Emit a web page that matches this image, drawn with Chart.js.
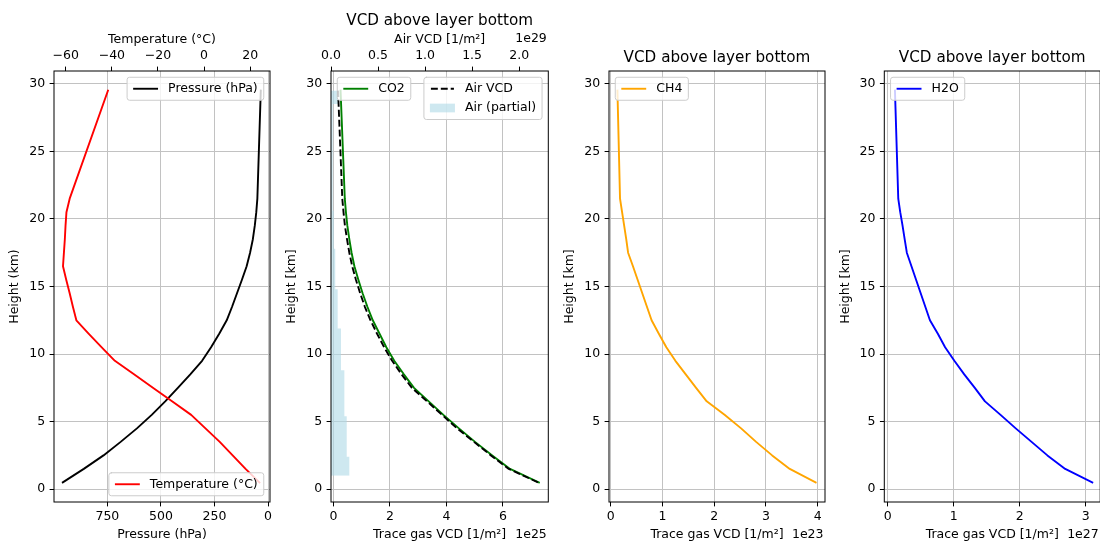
<!DOCTYPE html>
<html><head><meta charset="utf-8">
<script src="https://cdn.jsdelivr.net/npm/chart.js@4.4.0/dist/chart.umd.min.js"></script>
<style>
html,body{margin:0;padding:0;background:#fff;overflow:hidden;width:1100px;height:542px;}
.wrap{position:absolute;left:0;top:0;width:1120px;height:560px;}
canvas{position:absolute;left:0;top:0;}
</style></head><body>
<div class="wrap">
<canvas id="c1" width="1120" height="560"></canvas>
<canvas id="c2" width="1120" height="560"></canvas>
<canvas id="c3" width="1120" height="560"></canvas>
<canvas id="c4" width="1120" height="560"></canvas>
</div>
<script>
// ---------------- data ----------------
const heights = [0.5, 1.5, 2.5, 3.5, 4.5, 5.5, 6.5, 7.5, 8.5, 9.5, 10.5, 11.5, 12.5, 13.5, 14.5, 15.5, 16.5, 17.5, 18.5, 19.5, 20.5, 21.5, 29.5];
const pressureHpa = [958, 860, 768, 688, 612, 543, 480, 421, 363, 308, 266, 228, 193, 168, 145, 122, 100, 84, 71, 62, 55, 50, 34];
const temperatureC = [24.0, 18.0, 12.4, 6.8, 0.6, -5.6, -13.9, -22.2, -30.4, -38.7, -44.4, -50.0, -55.4, -56.9, -58.3, -59.8, -61.2, -60.8, -60.4, -60.1, -59.7, -58.3, -41.7];
const co2Vcd_e25 = [7.27, 6.25, 5.62, 5.01, 4.44, 3.89, 3.37, 2.85, 2.49, 2.15, 1.87, 1.63, 1.39, 1.20, 1.03, 0.88, 0.74, 0.64, 0.56, 0.49, 0.44, 0.40, 0.25];
const airVcd_e29 = [2.20, 1.89, 1.70, 1.52, 1.34, 1.18, 1.02, 0.86, 0.75, 0.65, 0.565, 0.49, 0.42, 0.36, 0.31, 0.265, 0.225, 0.195, 0.17, 0.148, 0.133, 0.12, 0.075];
const ch4Vcd_e23 = [3.96, 3.46, 3.12, 2.81, 2.52, 2.20, 1.855, 1.65, 1.45, 1.25, 1.075, 0.93, 0.79, 0.70, 0.61, 0.52, 0.43, 0.336, 0.30, 0.26, 0.22, 0.18, 0.13];
const h2oVcd_e27 = [3.10, 2.69, 2.42, 2.18, 1.94, 1.71, 1.474, 1.32, 1.16, 1.01, 0.87, 0.76, 0.64, 0.57, 0.50, 0.43, 0.36, 0.29, 0.257, 0.225, 0.19, 0.16, 0.11];
// partial air column bars: layer bottom heights and widths (last entry closes the top)
const partialBottoms = [1, 2.4, 5.4, 8.8, 11.9, 14.8, 17.8, 20.6, 28.5, 29.5];
const partialAir_e29 = [0.195, 0.167, 0.142, 0.106, 0.071, 0.045, 0.03, 0.018, 0.074, 0];

// tick values / labels
const heightTicks = [0, 5, 10, 15, 20, 25, 30];
const heightTickLabels = ['0', '5', '10', '15', '20', '25', '30'];
const pressureTicks = [0, 250, 500, 750];
const pressureTickLabels = ['0', '250', '500', '750'];
const tempTicks = [-60, -40, -20, 0, 20];
const tempTickLabels = ['\u221260', '\u221240', '\u221220', '0', '20'];
const airTicks = [0, 0.5, 1.0, 1.5, 2.0];
const airTickLabels = ['0.0', '0.5', '1.0', '1.5', '2.0'];
const co2Ticks = [0, 2, 4, 6];
const co2TickLabels = ['0', '2', '4', '6'];
const ch4Ticks = [0, 1, 2, 3, 4];
const ch4TickLabels = ['0', '1', '2', '3', '4'];
const h2oTicks = [0, 1, 2, 3];
const h2oTickLabels = ['0', '1', '2', '3'];

// ---------------- styling ----------------
const FAM = "'DejaVu Sans', sans-serif";
const FS = 12.5;
const fTick = {family: FAM, size: FS, lineHeight: 1.2, weight: 'normal'};
const fTitle = {family: FAM, size: 15.2, lineHeight: 1.2, weight: 'normal'};
const TL = 4.4;
const GRID = '#c2c2c2';
const LW = 1.9;
const Y_W = 46.5, XB_H = 40.5, XT_H = 38.5;
Chart.defaults.color = '#000';
Chart.defaults.font.family = FAM;

const pts = (xs, ys) => ys.map((y, i) => ({x: xs[i], y: y}));

function yAxis(title) {
  return {
    type: 'linear', position: 'left', min: -0.95, max: 30.95,
    afterBuildTicks: s => { s.ticks = heightTicks.map(v => ({value: v})); },
    ticks: {font: fTick, color: '#000', padding: 4.5, autoSkip: false, maxRotation: 0, callback: (v, i) => heightTickLabels[i]},
    grid: {display: true, drawOnChartArea: true, color: GRID, lineWidth: 1, drawTicks: true, tickLength: TL, tickColor: '#000', tickWidth: 1},
    border: {display: false},
    title: {display: true, text: title, font: fTick, color: '#000', padding: 0},
    afterFit: s => { s.width = Y_W; }
  };
}
function xAxis(pos, min, max, ticks, labels, title, gridOn, reverse) {
  return {
    type: 'linear', position: pos, min: min, max: max, reverse: !!reverse,
    afterBuildTicks: s => { s.ticks = ticks.map(v => ({value: v})); },
    ticks: {font: fTick, color: '#000', padding: pos === 'top' ? 3.8 : 3.0, autoSkip: false, maxRotation: 0, callback: (v, i) => labels[i]},
    grid: {display: true, drawOnChartArea: gridOn, color: GRID, lineWidth: 1, drawTicks: true, tickLength: TL, tickColor: '#000', tickWidth: 1},
    border: {display: false},
    title: {display: true, text: title, font: fTick, color: '#000', padding: 0},
    afterFit: s => { s.height = pos === 'top' ? XT_H : XB_H; }
  };
}
function lineDs(label, xs, color, xAxisID, order, dash) {
  return {
    type: 'line', label: label, data: pts(xs, heights), borderColor: color, backgroundColor: color,
    borderWidth: LW, borderDash: dash || [], borderCapStyle: dash ? 'butt' : 'square', borderJoinStyle: 'round',
    pointRadius: 0, tension: 0, fill: false, xAxisID: xAxisID, yAxisID: 'y', order: order
  };
}

// ---------------- plugins ----------------
function roundRect(ctx, x, y, w, h, r) {
  ctx.beginPath();
  ctx.moveTo(x + r, y);
  ctx.lineTo(x + w - r, y); ctx.arcTo(x + w, y, x + w, y + r, r);
  ctx.lineTo(x + w, y + h - r); ctx.arcTo(x + w, y + h, x + w - r, y + h, r);
  ctx.lineTo(x + r, y + h); ctx.arcTo(x, y + h, x, y + h - r, r);
  ctx.lineTo(x, y + r); ctx.arcTo(x, y, x + r, y, r);
  ctx.closePath();
}
const mplDecor = {
  id: 'mplDecor',
  afterDatasetsDraw(chart, args, opts) {
    const ctx = chart.ctx, a = chart.chartArea;
    ctx.save();
    ctx.setLineDash([]);
    ctx.strokeStyle = '#000'; ctx.lineWidth = 1;
    ctx.strokeRect(a.left, a.top, a.right - a.left, a.bottom - a.top);
    ctx.font = FS + 'px ' + FAM;
    const pad = 0.4 * FS, axPad = 0.5 * FS, hLen = 2 * FS, hPad = 0.8 * FS, rowH = 13, sp = 0.5 * FS;
    (opts.boxes || []).forEach(b => {
      const ds = b.items.map(i => chart.data.datasets[i]);
      const tw = Math.max(...ds.map(d => ctx.measureText(d.label).width));
      const w = 2 * pad + hLen + hPad + tw + 2;
      const h = 2 * pad + ds.length * rowH + (ds.length - 1) * sp;
      const x = b.loc.indexOf('right') >= 0 ? a.right - axPad - w : a.left + axPad;
      const y = b.loc.indexOf('upper') >= 0 ? a.top + axPad : a.bottom - axPad - h;
      roundRect(ctx, x, y, w, h, 0.2 * FS);
      ctx.fillStyle = 'rgba(255,255,255,0.8)'; ctx.fill();
      ctx.strokeStyle = '#cccccc'; ctx.lineWidth = 1; ctx.setLineDash([]); ctx.stroke();
      ds.forEach((d, k) => {
        const cy = y + pad + k * (rowH + sp) + rowH / 2;
        const hx = x + pad + 1;
        if (d.fill) {
          ctx.fillStyle = d.backgroundColor;
          ctx.fillRect(hx, cy - 0.35 * FS, hLen, 0.7 * FS);
        } else {
          ctx.strokeStyle = d.borderColor; ctx.lineWidth = d.borderWidth;
          ctx.setLineDash(d.borderDash || []);
          ctx.lineCap = d.borderDash && d.borderDash.length ? 'butt' : 'square';
          ctx.beginPath(); ctx.moveTo(hx + 1, cy); ctx.lineTo(hx + hLen - 1, cy); ctx.stroke();
          ctx.setLineDash([]);
        }
        ctx.fillStyle = '#000'; ctx.textAlign = 'left'; ctx.textBaseline = 'middle';
        ctx.fillText(d.label, hx + hLen + hPad, cy);
      });
    });
    ctx.restore();
  },
  afterDraw(chart, args, opts) {
    const ctx = chart.ctx, a = chart.chartArea;
    ctx.save();
    ctx.font = FS + 'px ' + FAM; ctx.fillStyle = '#000';
    ctx.textAlign = 'right'; ctx.textBaseline = 'middle';
    (opts.offsets || []).forEach(o => {
      const s = chart.scales[o.scale];
      const y = s.position === 'top' ? a.top - 32.7 : a.bottom + 32.3;
      ctx.fillText(o.text, s.right - 1.5, y);
    });
    ctx.restore();
  }
};

function makeChart(id, cfg) {
  return new Chart(document.getElementById(id), {
    type: 'line',
    data: {datasets: cfg.datasets},
    options: {
      responsive: false, animation: false, devicePixelRatio: 1, events: [],
      indexAxis: 'y',
      layout: {padding: cfg.padding},
      plugins: {
        legend: {display: false}, tooltip: {enabled: false},
        title: cfg.title ? {display: true, text: cfg.title, font: fTitle, color: '#000', fullSize: false, padding: {top: 0, bottom: cfg.titlePadB}} : {display: false},
        mplDecor: {boxes: cfg.legends, offsets: cfg.offsets || []}
      },
      scales: cfg.scales
    },
    plugins: [mplDecor]
  });
}

// ---------------- panel 1 ----------------
makeChart('c1', {
  padding: {left: 54 - Y_W, right: 1120 - 270, top: 71 - XT_H, bottom: 560 - 502 - XB_H},
  datasets: [
    lineDs('Pressure (hPa)', pressureHpa, '#000000', 'x', 2),
    lineDs('Temperature (\u00b0C)', temperatureC, '#ff0000', 'x2', 1)
  ],
  legends: [{loc: 'upper right', items: [0]}, {loc: 'lower right', items: [1]}],
  scales: {
    y: yAxis('Height (km)'),
    x: xAxis('bottom', -9, 999, pressureTicks, pressureTickLabels, 'Pressure (hPa)', true, true),
    x2: xAxis('top', -65.1, 28.6, tempTicks, tempTickLabels, 'Temperature (\u00b0C)', false, false)
  }
});

// ---------------- panel 2 ----------------
const partialDs = {
  type: 'line', label: 'Air (partial)', data: pts(partialAir_e29, partialBottoms),
  stepped: 'after', fill: 'origin', backgroundColor: 'rgba(173,216,230,0.6)',
  borderColor: 'rgba(0,0,0,0)', borderWidth: 1, pointRadius: 0, tension: 0,
  xAxisID: 'x2', yAxisID: 'y', order: 3
};
makeChart('c2', {
  padding: {left: 331 - Y_W, right: 1120 - 548.3, top: 11.58, bottom: 560 - 502 - XB_H},
  title: 'VCD above layer bottom', titlePadB: 2.68,
  datasets: [
    lineDs('CO2', co2Vcd_e25, '#008000', 'x', 2),
    lineDs('Air VCD', airVcd_e29, '#000000', 'x2', 1, [6.9, 3.0]),
    partialDs
  ],
  legends: [{loc: 'upper left', items: [0]}, {loc: 'upper right', items: [1, 2]}],
  offsets: [{scale: 'x', text: '1e25'}, {scale: 'x2', text: '1e29'}],
  scales: {
    y: yAxis('Height [km]'),
    x: xAxis('bottom', -0.0885, 7.604, co2Ticks, co2TickLabels, 'Trace gas VCD [1/m\u00b2]', true, false),
    x2: xAxis('top', 0, 2.31, airTicks, airTickLabels, 'Air VCD [1/m\u00b2]', false, false)
  }
});

// ---------------- panel 3 ----------------
makeChart('c3', {
  padding: {left: 609 - Y_W, right: 1120 - 825, top: 49.18, bottom: 560 - 502 - XB_H},
  title: 'VCD above layer bottom', titlePadB: 3.58,
  datasets: [lineDs('CH4', ch4Vcd_e23, '#ffa500', 'x', 1)],
  legends: [{loc: 'upper left', items: [0]}],
  offsets: [{scale: 'x', text: '1e23'}],
  scales: {
    y: yAxis('Height [km]'),
    x: xAxis('bottom', -0.033, 4.141, ch4Ticks, ch4TickLabels, 'Trace gas VCD [1/m\u00b2]', true, false)
  }
});

// ---------------- panel 4 ----------------
makeChart('c4', {
  padding: {left: 884.3 - Y_W, right: 1120 - 1100.2, top: 49.18, bottom: 560 - 502 - XB_H},
  title: 'VCD above layer bottom', titlePadB: 3.58,
  datasets: [lineDs('H2O', h2oVcd_e27, '#0000ff', 'x', 1)],
  legends: [{loc: 'upper left', items: [0]}],
  offsets: [{scale: 'x', text: '1e27'}],
  scales: {
    y: yAxis('Height [km]'),
    x: xAxis('bottom', -0.0515, 3.22, h2oTicks, h2oTickLabels, 'Trace gas VCD [1/m\u00b2]', true, false)
  }
});
</script>
</body></html>
